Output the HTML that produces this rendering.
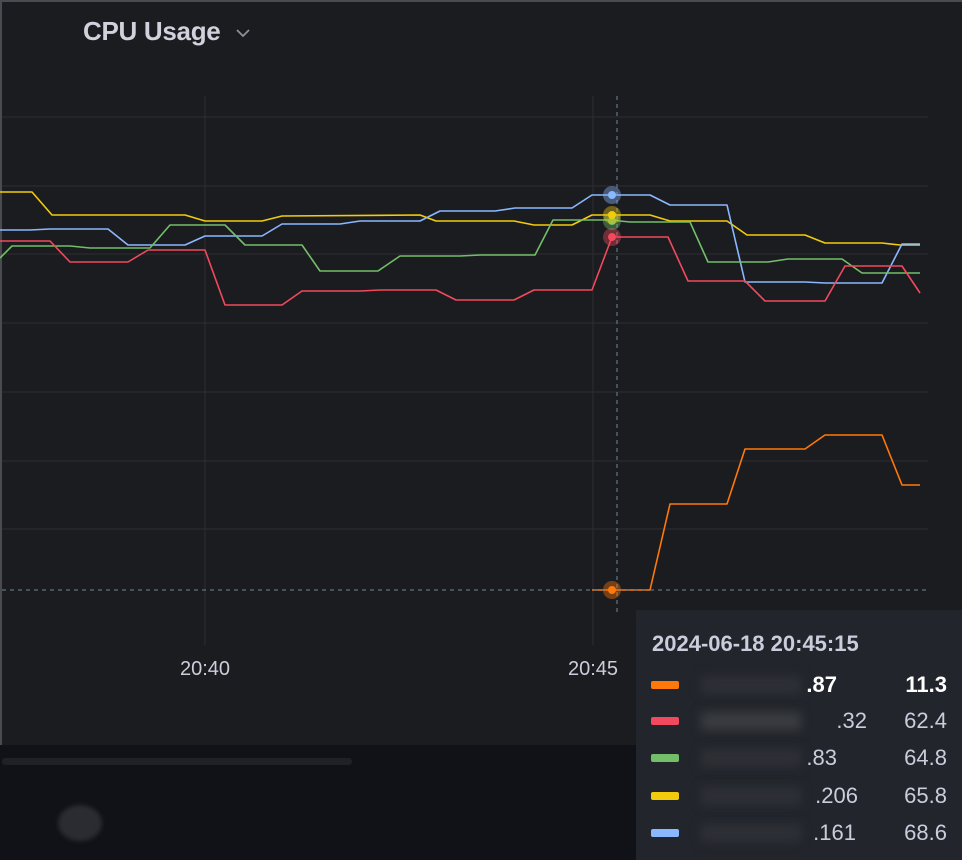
<!DOCTYPE html>
<html><head><style>
body{margin:0;width:962px;height:860px;background:#111217;overflow:hidden;font-family:"Liberation Sans",sans-serif;position:relative}
.panel{position:absolute;left:0;top:0;width:962px;height:745px;background:#1b1c20;border-top:2px solid #4a4b50;border-left:2px solid #4a4b50;box-sizing:border-box}
.title{position:absolute;left:83px;top:16px;font-size:26px;font-weight:bold;color:#d0d1dc;letter-spacing:-0.3px}
.tt{position:absolute;left:636px;top:610px;width:326px;height:250px;background:#22252b;color:#ccccdc}
.tt .h{position:absolute;left:16px;top:21px;font-size:22px;font-weight:bold;color:#ccccdc}
.row{position:absolute;left:0;width:326px;font-size:22px}
.sw{position:absolute;left:15px;top:9px;width:28px;height:8px;border-radius:2px}
.n{position:absolute;right:125px}
.v{position:absolute;right:15px}
.blur{position:absolute;left:65px;top:4px;width:100px;height:18px;background:#2e3036;filter:blur(5px)}
</style></head><body>
<div class="panel"></div>
<div class="title">CPU Usage</div>
<svg width="962" height="860" style="position:absolute;left:0;top:0">
<polyline points="237,30 243,36 249,30" fill="none" stroke="#8e8f98" stroke-width="1.8"/>
<g stroke="#2c2d32" stroke-width="1">
<line x1="2" y1="117" x2="928" y2="117"/><line x1="2" y1="186" x2="928" y2="186"/><line x1="2" y1="254" x2="928" y2="254"/><line x1="2" y1="323" x2="928" y2="323"/><line x1="2" y1="392" x2="928" y2="392"/><line x1="2" y1="461" x2="928" y2="461"/><line x1="2" y1="529" x2="928" y2="529"/>
<line x1="205" y1="96" x2="205" y2="645"/><line x1="593" y1="96" x2="593" y2="645"/>
</g>
<g fill="none" stroke-width="1.6" stroke-linejoin="round">
<polyline stroke="#f2cc0c" points="0,192 32,192 52,215 185,215 205,221 262,221 282,216 420,215 436,221 514,221 534,225 572,225 592,215 650,215 670,221 727,221 747,235 805,235 825,243 882,243 900,245 920,245"/>
<polyline stroke="#8ab8ff" points="0,230 30,230 50,229 108,229 128,245 185,245 205,236 262,236 282,224 340,224 360,221 420,221 440,211 495,211 515,208 572,208 592,195 650,195 670,205 727,205 745,282 805,282 825,283 882,283 902,244 920,244"/>
<polyline stroke="#73bf69" points="0,258 12,246 70,246 90,248 150,248 170,225 225,225 245,245 302,245 320,271 378,271 400,256 460,256 480,255 535,255 553,220 610,220 630,222 690,222 708,262 768,262 788,259 842,259 862,273 920,273"/>
<polyline stroke="#f2495c" points="0,241 50,241 70,262 128,262 148,250 205,250 225,305 282,305 302,291 360,291 380,290 436,290 456,300 514,300 534,290 592,290 612,237 668,237 688,281 745,281 765,301 825,301 845,266 902,266 920,293"/>
<polyline stroke="#ff780a" points="592,590 650,590 670,504 727,504 745,449 805,449 825,435 882,435 902,485 920,485"/>
</g>
<g stroke="#6f8796" stroke-dasharray="4,4" stroke-width="1">
<line x1="617" y1="96" x2="617" y2="612"/><line x1="2" y1="590" x2="928" y2="590"/>
</g>
<g>
<circle cx="612" cy="590" r="9" fill="#ff780a" opacity="0.4"/><circle cx="612" cy="590" r="4" fill="#ff780a"/>
<circle cx="612" cy="237" r="9" fill="#f2495c" opacity="0.4"/><circle cx="612" cy="237" r="4" fill="#f2495c"/>
<circle cx="612" cy="221" r="9" fill="#73bf69" opacity="0.4"/><circle cx="612" cy="221" r="4" fill="#73bf69"/>
<circle cx="612" cy="215" r="9" fill="#f2cc0c" opacity="0.4"/><circle cx="612" cy="215" r="4" fill="#f2cc0c"/>
<circle cx="612" cy="195" r="9" fill="#8ab8ff" opacity="0.4"/><circle cx="612" cy="195" r="4" fill="#8ab8ff"/>
</g>
<g font-family="Liberation Sans" font-size="20" fill="#ccccdc" text-anchor="middle">
<text x="205" y="675">20:40</text><text x="593" y="675">20:45</text>
</g>
<rect x="2" y="758" width="350" height="7" rx="3" fill="#202126"/>
<ellipse cx="80" cy="823" rx="22" ry="18" fill="#2b2c31" style="filter:blur(2px)"/>
</svg>
<div class="tt">
<div class="h">2024-06-18 20:45:15</div>
<div class="row" style="top:62px;font-weight:bold;color:#fff"><div class="sw" style="background:#ff780a"></div><div class="blur"></div><span class="n">.87</span><span class="v">11.3</span></div>
<div class="row" style="top:98px"><div class="sw" style="background:#f2495c"></div><div class="blur" style="background:#3a3c42"></div><span class="n" style="right:95px">.32</span><span class="v">62.4</span></div>
<div class="row" style="top:135px"><div class="sw" style="background:#73bf69"></div><div class="blur"></div><span class="n" style="right:125px">.83</span><span class="v">64.8</span></div>
<div class="row" style="top:173px"><div class="sw" style="background:#f2cc0c"></div><div class="blur"></div><span class="n" style="right:104px">.206</span><span class="v">65.8</span></div>
<div class="row" style="top:210px"><div class="sw" style="background:#8ab8ff"></div><div class="blur"></div><span class="n" style="right:106px">.161</span><span class="v">68.6</span></div>
</div>
</body></html>
